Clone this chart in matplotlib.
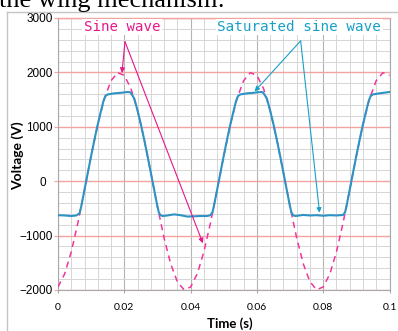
import numpy as np
import matplotlib
matplotlib.use("Agg")
import matplotlib.pyplot as plt
from matplotlib.ticker import MultipleLocator, FuncFormatter
from matplotlib.lines import Line2D

W, H, DPI = 398, 331, 100

# Reference sine wave, sampled every 2 ms
sine_t = np.round(np.arange(51) * 0.002, 3)
sine_v = [-1945, -1705, -1299, -765, -157, 467, 1045, 1521, 1848, 1994,
          1945, 1705, 1299, 765, 157, -467, -1045, -1521, -1848, -1994,
          -1945, -1705, -1299, -765, -157, 467, 1045, 1521, 1848, 1994,
          1945, 1705, 1299, 765, 157, -467, -1045, -1521, -1848, -1994,
          -1945, -1705, -1299, -765, -157, 467, 1045, 1521, 1848, 1994,
          1945]

# Measured saturated output (time in ms, voltage in V)
sat_t_ms = [0, 2, 4, 5.5, 6.5, 7, 8, 9, 10, 11, 12, 13, 13.7, 14.3, 15, 17, 19, 21,
            21.8, 22.4, 23, 24, 25, 26, 27, 28, 29, 30, 30.4, 30.9, 31.6, 33, 35, 37,
            39, 41, 43, 45, 46, 46.6, 47, 48, 49, 50, 51, 52, 53, 53.7, 54.3, 55, 57,
            59, 61, 61.8, 62.4, 63, 64, 65, 66, 67, 68, 69, 70, 70.4, 70.9, 71.6, 74,
            76, 78, 80, 82, 84, 86, 86.6, 87, 88, 89, 90, 91, 92, 93, 93.7, 94.3, 95,
            97, 100]
sat_v = [-625, -630, -640, -630, -590, -467, -157, 157, 467, 765, 1045, 1299, 1470, 1565,
         1595, 1615, 1625, 1640, 1635, 1580, 1521, 1299, 1045, 765, 467, 157, -157, -467,
         -570, -625, -640, -630, -610, -625, -650, -645, -640, -640, -625, -570, -467,
         -157, 157, 467, 765, 1045, 1299, 1470, 1565, 1595, 1615, 1625, 1640, 1635, 1580,
         1521, 1299, 1045, 765, 467, 157, -157, -467, -570, -625, -640, -620, -630, -625,
         -635, -625, -630, -620, -570, -467, -157, 157, 467, 765, 1045, 1299, 1470, 1565,
         1595, 1615, 1640]
sat_t = np.array(sat_t_ms) / 1000.0

x_ticks = [0, 0.02, 0.04, 0.06, 0.08, 0.1]
y_ticks = [-2000, -1000, 0, 1000, 2000, 3000]

SINE_COLOR = "#f0359c"
SINE_TEXT = "#e8168a"
SAT_COLOR = "#2e93c4"
SAT_TEXT = "#18a0c8"

fig = plt.figure(figsize=(W / DPI, H / DPI), dpi=DPI)
fig.patch.set_facecolor("white")

# caption line from the surrounding text, cut by the top edge
fig.text(225 / W, 1 - 7 / H, "the wing mechanism:", ha="right", va="baseline",
         family="Liberation Serif", fontsize=19, color="black")

# outer chart frame
fig.add_artist(Line2D([7 / W, 7 / W], [1 - 12 / H, 0], color="#c4c4c4", lw=1.0,
                      transform=fig.transFigure))
fig.add_artist(Line2D([7 / W, 1], [1 - 12 / H, 1 - 12 / H], color="#c4c4c4", lw=1.0,
                      transform=fig.transFigure))

left, right, top, bottom = 58, 389.5, 18, 290
ax = fig.add_axes([left / W, 1 - bottom / H, (right - left) / W, (bottom - top) / H])
ax.set_xlim(0, 0.1)
ax.set_ylim(-2000, 3000)

ax.xaxis.set_major_locator(MultipleLocator(0.02))
ax.xaxis.set_minor_locator(MultipleLocator(0.004))
ax.yaxis.set_major_locator(MultipleLocator(1000))
ax.yaxis.set_minor_locator(MultipleLocator(200))

ax.grid(which="minor", color="#d6d6d6", lw=0.7)
ax.grid(which="major", axis="x", color="#b4b4b4", lw=0.8)
ax.grid(which="major", axis="y", color="#f4a3a3", lw=1.0)
ax.set_axisbelow(True)

for side in ("left", "bottom", "right"):
    ax.spines[side].set_color("#a8a8a8")
    ax.spines[side].set_linewidth(0.8)
ax.spines["top"].set_color("#f4a3a3")
ax.spines["top"].set_linewidth(1.0)


def y_fmt(v, pos):
    v = int(round(v))
    if v == 0:
        return "0\u2002"
    return f"{v}".replace("-", "\u2212")


ax.set_xticks(x_ticks)
ax.set_yticks(y_ticks)
ax.xaxis.set_major_formatter(FuncFormatter(lambda v, p: "0" if v == 0 else f"{v:g}"))
ax.yaxis.set_major_formatter(FuncFormatter(y_fmt))
ax.tick_params(axis="x", which="major", length=2, color="#a8a8a8", pad=7)
ax.tick_params(axis="y", which="major", length=3, color="#f4a3a3", pad=1)
ax.tick_params(which="minor", length=0)
for lab in ax.get_xticklabels():
    lab.set_family("Lato")
    lab.set_fontsize(7.5)
for lab in ax.get_yticklabels():
    lab.set_family("Liberation Sans")
    lab.set_fontsize(8.5)

ax.plot(sine_t, sine_v, color=SINE_COLOR, lw=1.1, ls=(0, (4, 3)), zorder=3)
ax.plot(sat_t, sat_v, color=SAT_COLOR, lw=1.5, zorder=4)

box = dict(fc="white", ec="none", pad=1)
ax.text(0.0193, 2835, "Sine wave", ha="center", va="center", color=SINE_TEXT,
        family="DejaVu Sans Mono", fontsize=10.2, bbox=box, zorder=6)
ax.text(0.0728, 2835, "Saturated sine wave", ha="center", va="center", color=SAT_TEXT,
        family="DejaVu Sans Mono", fontsize=10.3, bbox=box, zorder=6)

arrow_kw = dict(arrowstyle="-|>", lw=0.8, mutation_scale=7, shrinkA=0, shrinkB=0)
for end in [(0.0193, 1990), (0.0437, -1140)]:
    ax.annotate("", xy=end, xytext=(0.0202, 2565),
                arrowprops=dict(color=SINE_TEXT, **arrow_kw), zorder=5)
for end in [(0.0593, 1650), (0.0789, -580)]:
    ax.annotate("", xy=end, xytext=(0.0732, 2580),
                arrowprops=dict(color=SAT_TEXT, **arrow_kw), zorder=5)

fig.text(18 / W, 1 - 156 / H, "Voltage (V)", rotation=90, ha="center", va="center",
         family="Lato", fontweight="bold", fontsize=10)
fig.text(230 / W, 1 - 324 / H, "Time (s)", ha="center", va="center",
         family="Lato", fontweight="bold", fontsize=9.5)

fig.savefig("out.png", dpi=DPI, facecolor="white")
